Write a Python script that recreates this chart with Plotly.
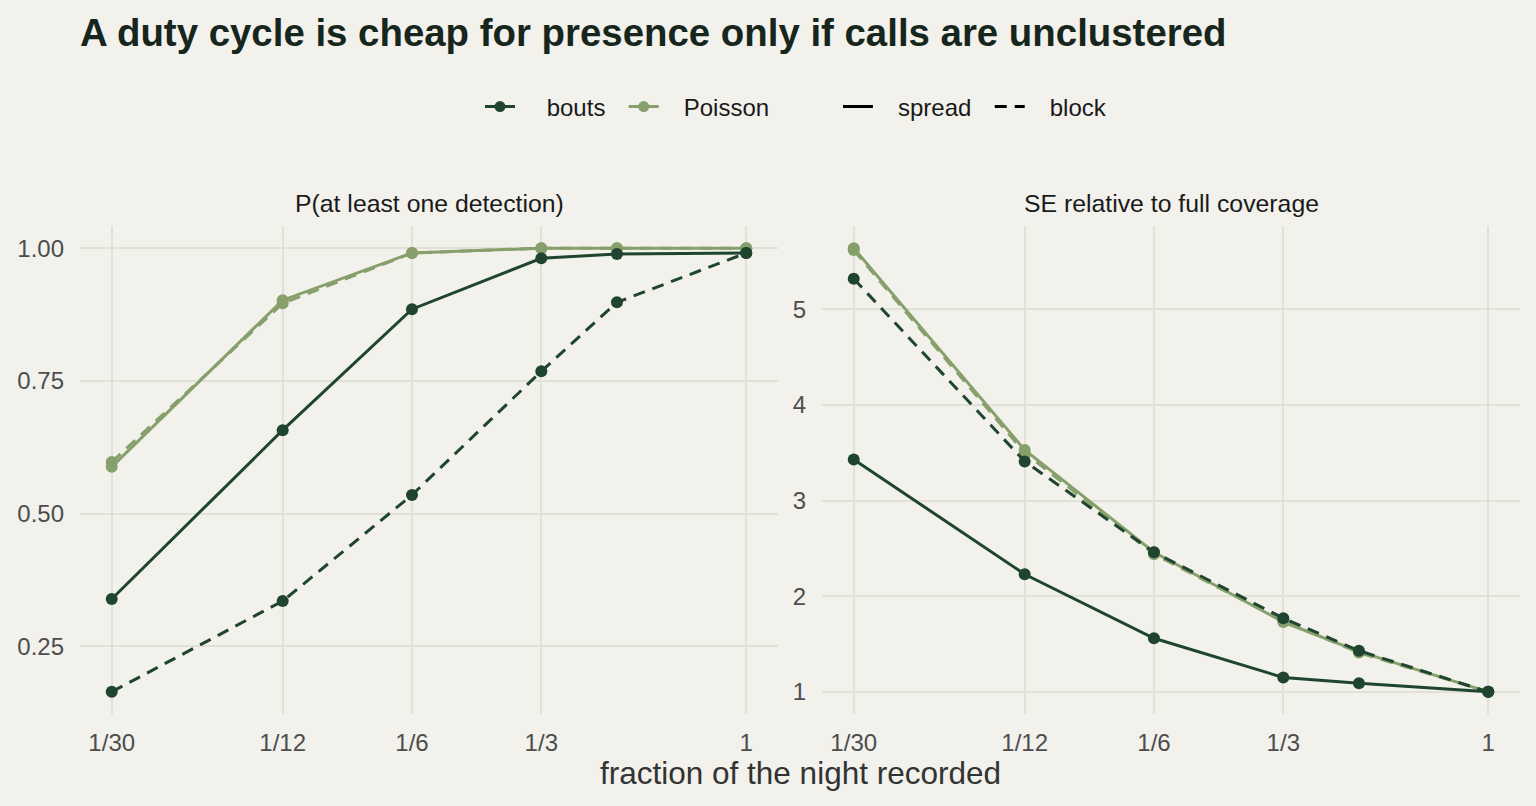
import plotly.graph_objects as go
from plotly.subplots import make_subplots
import math

fractions = [1/30, 1/12, 1/6, 1/3, 1/2, 1]
tick_vals = [1/30, 1/12, 1/6, 1/3, 1]
tick_text = ["1/30", "1/12", "1/6", "1/3", "1"]

# P(at least one detection)
p_bouts_spread = [0.339, 0.657, 0.885, 0.981, 0.989, 0.991]
p_bouts_block = [0.164, 0.335, 0.535, 0.768, 0.898, 0.991]
p_pois_spread = [0.588, 0.902, 0.991, 1.000, 1.000, 1.000]
p_pois_block = [0.597, 0.896, 0.991, 1.000, 1.000, 1.000]

# SE relative to full coverage
se_bouts_spread = [3.43, 2.23, 1.56, 1.15, 1.09, 1.00]
se_bouts_block = [5.32, 3.41, 2.46, 1.77, 1.43, 1.00]
se_pois_spread = [5.64, 3.53, 2.46, 1.73, 1.42, 1.00]
se_pois_block = [5.62, 3.50, 2.44, 1.74, 1.41, 1.00]

C_BOUTS = "#1f4530"
C_POIS = "#87a06b"
BG = "#f2f1eb"
GRID = "#e2e1d7"
DASH = "12px,8px"
FONT = "Liberation Sans, Arial, sans-serif"
NB = "\u00a0"

fig = make_subplots(rows=1, cols=2, horizontal_spacing=0.03)

def add(col, y, color, dash):
    fig.add_trace(go.Scatter(
        x=fractions, y=y, mode="lines+markers",
        line=dict(color=color, width=3, dash=dash),
        marker=dict(color=color, size=12),
        showlegend=False, hoverinfo="skip"), row=1, col=col)

for col, series in [(1, [p_pois_spread, p_pois_block, p_bouts_spread, p_bouts_block]),
                    (2, [se_pois_spread, se_pois_block, se_bouts_spread, se_bouts_block])]:
    add(col, series[0], C_POIS, "solid")
    add(col, series[1], C_POIS, DASH)
    add(col, series[2], C_BOUTS, "solid")
    add(col, series[3], C_BOUTS, DASH)

# legend entries
fig.add_trace(go.Scatter(x=[None], y=[None], mode="lines+markers", name=NB * 4 + "bouts" + NB * 2,
                         line=dict(color=C_BOUTS, width=3), marker=dict(size=11, color=C_BOUTS),
                         legend="legend"))
fig.add_trace(go.Scatter(x=[None], y=[None], mode="lines+markers", name=NB * 3 + "Poisson",
                         line=dict(color=C_POIS, width=3), marker=dict(size=11, color=C_POIS),
                         legend="legend"))
fig.add_trace(go.Scatter(x=[None], y=[None], mode="lines", name=NB * 3 + "spread" + NB * 2,
                         line=dict(color="black", width=3), legend="legend2"))
fig.add_trace(go.Scatter(x=[None], y=[None], mode="lines", name=NB * 3 + "block",
                         line=dict(color="black", width=3, dash=DASH), legend="legend2"))

def exp_range(vals, log=False):
    if log:
        lo, hi = math.log10(min(vals)), math.log10(max(vals))
    else:
        lo, hi = min(vals), max(vals)
    pad = (hi - lo) * 0.05
    return [lo - pad, hi + pad]

xr = exp_range(fractions, log=True)
yr1 = exp_range(p_bouts_spread + p_bouts_block + p_pois_spread + p_pois_block)
yr2 = exp_range(se_bouts_spread + se_bouts_block + se_pois_spread + se_pois_block)

W, H = 1536, 806
dom_y = [1 - 714 / H, 1 - 226 / H]
axis_common = dict(showline=False, zeroline=False, gridcolor=GRID, gridwidth=2,
                   ticks="", tickfont=dict(size=24, color="#4d4d4d", family=FONT))

fig.update_xaxes(type="log", range=xr, tickvals=tick_vals, ticktext=tick_text,
                 ticklabelstandoff=12, **axis_common)
fig.update_yaxes(ticklabelstandoff=15)
fig.update_layout(
    xaxis=dict(domain=[80 / W, 778 / W]),
    xaxis2=dict(domain=[822 / W, 1520 / W]),
    yaxis=dict(domain=dom_y, range=yr1, tickvals=[0.25, 0.5, 0.75, 1.0],
               ticktext=["0.25", "0.50", "0.75", "1.00"], **axis_common),
    yaxis2=dict(domain=dom_y, range=yr2, tickvals=[1, 2, 3, 4, 5], **axis_common),
)

fig.update_layout(
    width=W, height=H,
    paper_bgcolor=BG, plot_bgcolor=BG,
    margin=dict(l=0, r=0, t=0, b=0),
    font=dict(family=FONT, color="#1a1a1a"),
    title=dict(text="<b>A duty cycle is cheap for presence only if calls are unclustered</b>",
               x=80 / W, xanchor="left", y=1 - 33 / H, yanchor="middle",
               font=dict(size=38.4, color="#16261c", family=FONT)),
    legend=dict(orientation="h", x=480 / W, xanchor="left", y=1 - 107 / H, yanchor="middle",
                font=dict(size=24, color="#1a1a1a"), bgcolor="rgba(0,0,0,0)",
                itemwidth=30),
    legend2=dict(orientation="h", x=838 / W, xanchor="left", y=1 - 107 / H, yanchor="middle",
                 font=dict(size=24, color="#1a1a1a"), bgcolor="rgba(0,0,0,0)",
                 itemwidth=30),
    annotations=[
        dict(text="P(at least one detection)", x=(80 + 778) / 2 / W, y=1 - 203 / H,
             xref="paper", yref="paper", showarrow=False, xanchor="center", yanchor="middle",
             font=dict(size=24.8, color="#1a1a1a", family=FONT)),
        dict(text="SE relative to full coverage", x=(822 + 1520) / 2 / W, y=1 - 203 / H,
             xref="paper", yref="paper", showarrow=False, xanchor="center", yanchor="middle",
             font=dict(size=24.8, color="#1a1a1a", family=FONT)),
        dict(text="fraction of the night recorded", x=(80 + 1520) / 2 / W, y=1 - 773 / H,
             xref="paper", yref="paper", showarrow=False, xanchor="center", yanchor="middle",
             font=dict(size=31.5, color="#333333", family=FONT)),
    ],
)

fig.write_html("out.html")
